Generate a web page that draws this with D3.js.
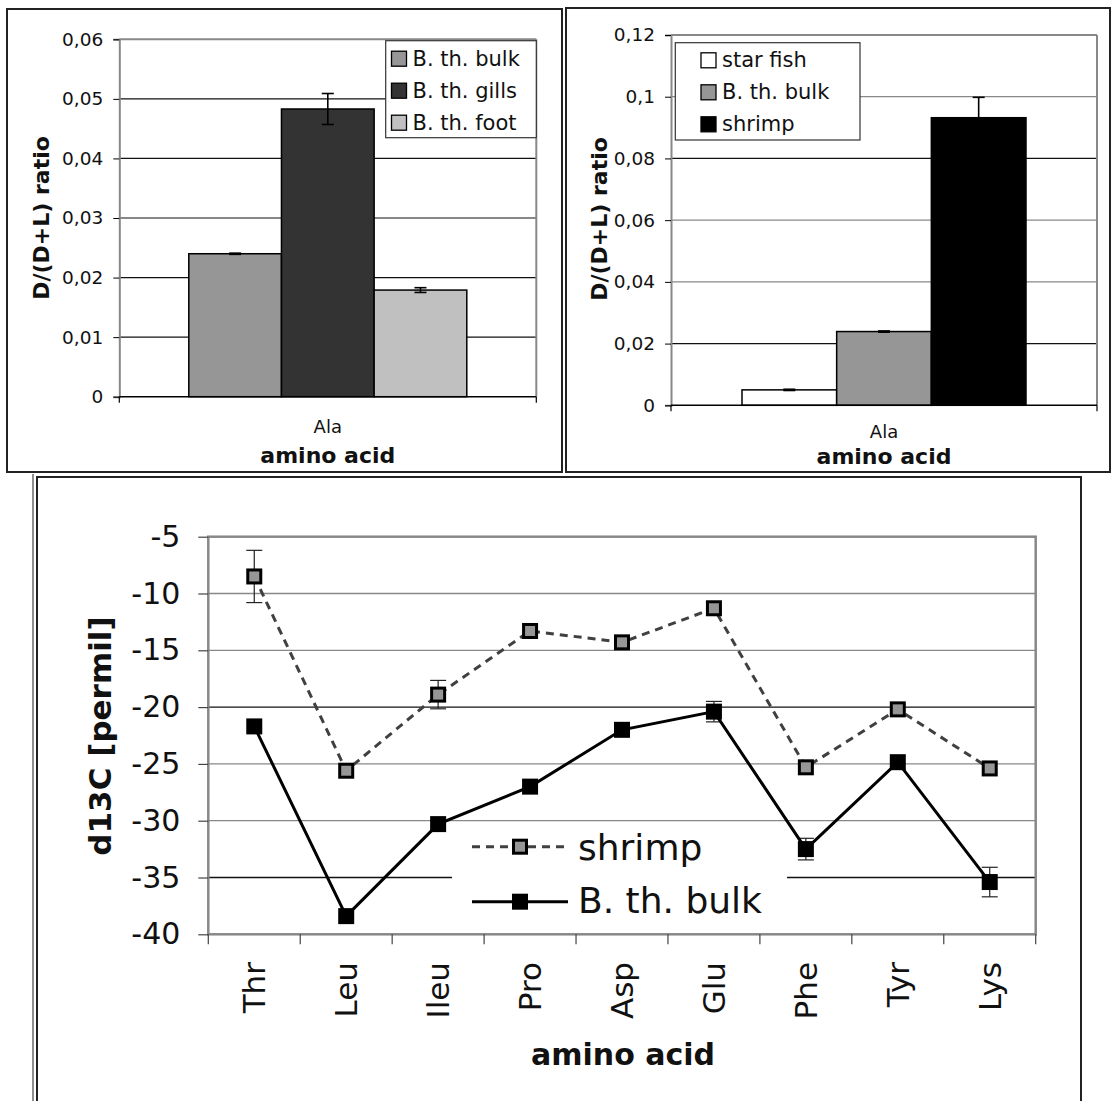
<!DOCTYPE html>
<html>
<head>
<meta charset="utf-8">
<script src="https://cdn.jsdelivr.net/npm/d3@7"></script>
<style>
  body { margin: 0; background: #ffffff; }
  svg { display: block; font-family: "DejaVu Sans", Verdana, sans-serif; }
</style>
</head>
<body>
<svg id="chart" width="1112" height="1101"></svg>
<script>
// ---- data: top-left panel (D/(D+L), Bathymodiolus tissues)
var tlCategories = ["Ala"];
var tlSeries = ["B. th. bulk", "B. th. gills", "B. th. foot"];
var tlValues = [0.024, 0.0483, 0.0179];
var tlErrors = [0.0001, 0.0026, 0.0004];
var tlTicks = [0, 0.01, 0.02, 0.03, 0.04, 0.05, 0.06];

// ---- data: top-right panel (D/(D+L), organisms)
var trCategories = ["Ala"];
var trSeries = ["star fish", "B. th. bulk", "shrimp"];
var trValues = [0.005, 0.0239, 0.0932];
var trErrors = [0.0002, 0.0002, 0.0066];
var trTicks = [0, 0.02, 0.04, 0.06, 0.08, 0.1, 0.12];

// ---- data: bottom panel (d13C per amino acid)
var aminoAcids = ["Thr", "Leu", "Ileu", "Pro", "Asp", "Glu", "Phe", "Tyr", "Lys"];
var shrimpD13C = [-8.5, -25.6, -18.9, -13.3, -14.3, -11.3, -25.3, -20.2, -25.4];
var shrimpErr  = [2.3, 0, 1.25, 0, 0.3, 0, 0, 0, 0];
var bulkD13C   = [-21.7, -38.4, -30.3, -27.0, -22.0, -20.4, -32.5, -24.85, -35.4];
var bulkErr    = [0, 0, 0, 0, 0, 0.9, 0.95, 0, 1.3];
var d13cTicks  = [-40, -35, -30, -25, -20, -15, -10, -5];

var svg = d3.select("#chart");

// comma decimal labels, as in the original
function commaFmt(d) { return String(+d.toFixed(3)).replace(".", ","); }

// panel frames
function frame(x0, y0, x1, y1) {
  svg.append("rect")
    .attr("x", x0).attr("y", y0)
    .attr("width", x1 - x0).attr("height", y1 - y0)
    .attr("fill", "none").attr("stroke", "#222").attr("stroke-width", 2);
}
frame(7, 9, 562, 472);
frame(566, 8, 1110, 472);
frame(37, 477, 1081, 1120);
svg.append("line").attr("x1", 33).attr("x2", 33).attr("y1", 474).attr("y2", 1101)
  .attr("stroke", "#444").attr("stroke-width", 1.2);

// ---------- bar panel ----------
function barPanel(o) {
  var g = svg.append("g");

  var y = d3.scaleLinear().domain([0, d3.max(o.ticks)]).range([o.bottom, o.top]);
  var x0 = d3.scaleBand().domain(o.categories).range([o.left, o.right]).paddingOuter(0.25).paddingInner(0);
  var x1 = d3.scaleBand().domain(o.series).range([0, x0.bandwidth()]);

  // gridlines
  g.selectAll(".grid").data(o.ticks.filter(function(t) { return t > 0; }))
    .enter().append("line")
      .attr("x1", o.left).attr("x2", o.right)
      .attr("y1", function(d) { return y(d); }).attr("y2", function(d) { return y(d); })
      .attr("stroke", function(d, i) { return o.gridDark.indexOf(d) >= 0 ? "#111" : "#888"; })
      .attr("stroke-width", function(d) { return d === d3.max(o.ticks) ? 2 : 1.2; });

  // plot border right
  g.append("line").attr("x1", o.right).attr("x2", o.right).attr("y1", o.top).attr("y2", o.bottom)
    .attr("stroke", "#888").attr("stroke-width", 2);

  // bars
  var rows = o.series.map(function(s, i) { return { s: s, v: o.values[i], e: o.errors[i], c: o.colors[i] }; });
  var cat = o.categories[0];
  g.selectAll(".bar").data(rows).enter().append("rect")
    .attr("x", function(d) { return x0(cat) + x1(d.s); })
    .attr("y", function(d) { return y(d.v); })
    .attr("width", x1.bandwidth())
    .attr("height", function(d) { return y(0) - y(d.v); })
    .attr("fill", function(d) { return d.c; })
    .attr("stroke", "#000").attr("stroke-width", 1.5);

  // error bars
  var eb = g.selectAll(".err").data(rows).enter().append("g")
    .attr("transform", function(d) { return "translate(" + (x0(cat) + x1(d.s) + x1.bandwidth() / 2) + ",0)"; });
  eb.append("line").attr("y1", function(d) { return y(d.v - d.e); }).attr("y2", function(d) { return y(d.v + d.e); })
    .attr("stroke", "#000").attr("stroke-width", 1.6);
  eb.append("line").attr("x1", -6).attr("x2", 6)
    .attr("y1", function(d) { return y(d.v + d.e); }).attr("y2", function(d) { return y(d.v + d.e); })
    .attr("stroke", "#000").attr("stroke-width", 1.6);
  eb.append("line").attr("x1", -6).attr("x2", 6)
    .attr("y1", function(d) { return y(d.v - d.e); }).attr("y2", function(d) { return y(d.v - d.e); })
    .attr("stroke", "#000").attr("stroke-width", 1.6);

  // y axis
  var ya = g.append("g").attr("transform", "translate(" + o.left + ",0)")
    .call(d3.axisLeft(y).tickValues(o.ticks).tickSize(6).tickPadding(10).tickFormat(commaFmt));
  ya.select(".domain").attr("stroke", "#888").attr("stroke-width", 2);
  ya.selectAll(".tick line").attr("stroke", "#000");
  ya.selectAll("text").attr("font-size", 18.5).attr("fill", "#111")
    .attr("font-family", "DejaVu Sans, Verdana, sans-serif");

  // x axis line at zero with end ticks
  g.append("line").attr("x1", o.left).attr("x2", o.right).attr("y1", y(0)).attr("y2", y(0))
    .attr("stroke", "#000").attr("stroke-width", 1.5);
  [o.left, o.right].forEach(function(xx) {
    g.append("line").attr("x1", xx).attr("x2", xx).attr("y1", y(0)).attr("y2", y(0) + 6)
      .attr("stroke", "#000").attr("stroke-width", 1.2);
  });

  // category label + axis title
  g.append("text").attr("x", x0(cat) + x0.bandwidth() / 2).attr("y", o.catY)
    .attr("text-anchor", "middle").attr("font-size", 18).attr("fill", "#111").text(cat);
  g.append("text").attr("x", x0(cat) + x0.bandwidth() / 2).attr("y", o.titleY)
    .attr("text-anchor", "middle").attr("font-size", 22).attr("font-weight", "bold").attr("fill", "#111")
    .text("amino acid");
  g.append("text")
    .attr("transform", "translate(" + o.yTitleX + "," + o.yTitleY + ") rotate(-90)")
    .attr("text-anchor", "middle").attr("dominant-baseline", "central")
    .attr("font-size", 22).attr("font-weight", "bold").attr("fill", "#111")
    .text("D/(D+L) ratio");

  // legend
  var lg = g.append("g");
  lg.append("rect").attr("x", o.legend.x0).attr("y", o.legend.y0)
    .attr("width", o.legend.x1 - o.legend.x0).attr("height", o.legend.y1 - o.legend.y0)
    .attr("fill", "#fff").attr("stroke", "#333").attr("stroke-width", 1.2);
  rows.forEach(function(d, i) {
    var cy = o.legend.firstY + i * 32;
    lg.append("rect").attr("x", o.legend.swX).attr("y", cy - 7.5).attr("width", 15).attr("height", 15)
      .attr("fill", d.c).attr("stroke", "#000").attr("stroke-width", 1.3);
    lg.append("text").attr("x", o.legend.swX + 21).attr("y", cy).attr("dominant-baseline", "central")
      .attr("font-size", 21).attr("fill", "#111").text(d.s);
  });
}

barPanel({
  categories: tlCategories, series: tlSeries, values: tlValues, errors: tlErrors, ticks: tlTicks,
  colors: ["#969696", "#333333", "#c0c0c0"],
  gridDark: [0.01, 0.02, 0.03, 0.04, 0.05],
  left: 119.3, right: 536.3, top: 39.3, bottom: 396.7,
  catY: 433, titleY: 463, yTitleX: 41, yTitleY: 218,
  legend: { x0: 385.7, x1: 536.3, y0: 40.7, y1: 137.7, swX: 391.5, firstY: 58.7 }
});

barPanel({
  categories: trCategories, series: trSeries, values: trValues, errors: trErrors, ticks: trTicks,
  colors: ["#ffffff", "#969696", "#000000"],
  gridDark: [0.02, 0.08],
  left: 671, right: 1097, top: 35, bottom: 405.3,
  catY: 438, titleY: 464, yTitleX: 599, yTitleY: 219,
  legend: { x0: 675.3, x1: 860, y0: 42.7, y1: 140, swX: 701, firstY: 60.3 }
});

// ---------- bottom line panel ----------
(function() {
  var left = 208.3, right = 1035.7, top = 536.7, bottom = 934.3;
  var g = svg.append("g");
  var x = d3.scaleBand().domain(aminoAcids).range([left, right]).padding(0);
  var y = d3.scaleLinear().domain([-40, -5]).range([bottom, top]);
  var cx = function(c) { return x(c) + x.bandwidth() / 2; };
  var darkGrid = [-20, -35];

  g.selectAll(".grid").data(d3ckeep(d3cTicksInner()))
    .enter().append("line")
      .attr("x1", left).attr("x2", right)
      .attr("y1", function(d) { return y(d); }).attr("y2", function(d) { return y(d); })
      .attr("stroke", function(d) { return darkGrid.indexOf(d) >= 0 ? "#111" : "#888"; })
      .attr("stroke-width", 1.3);

  function d3cTicksInner() { return d13cTicks.filter(function(t) { return t > -40 && t < -5; }); }
  function d3ckeep(a) { return a; }

  // plot border
  g.append("rect").attr("x", left).attr("y", top).attr("width", right - left).attr("height", bottom - top)
    .attr("fill", "none").attr("stroke", "#888").attr("stroke-width", 2.5);

  // legend background (covers gridlines)
  g.append("rect").attr("x", 452).attr("y", 826).attr("width", 335).attr("height", 104).attr("fill", "#fff");

  // y axis ticks + labels
  var ya = g.append("g").attr("transform", "translate(" + left + ",0)")
    .call(d3.axisLeft(y).tickValues(d13cTicks).tickSize(10).tickPadding(18).tickFormat(function(d) { return String(d); }));
  ya.select(".domain").remove();
  ya.selectAll(".tick line").attr("stroke", "#444").attr("stroke-width", 1.2);
  ya.selectAll("text").attr("font-size", 30).attr("fill", "#111")
    .attr("font-family", "DejaVu Sans, Verdana, sans-serif");

  // x axis tick marks at category boundaries
  var bounds = aminoAcids.map(function(c) { return x(c); }).concat([right]);
  g.selectAll(".xt").data(bounds).enter().append("line")
    .attr("x1", function(d) { return d; }).attr("x2", function(d) { return d; })
    .attr("y1", bottom).attr("y2", bottom + 10)
    .attr("stroke", "#444").attr("stroke-width", 1.2);

  // rotated category labels
  g.selectAll(".xl").data(aminoAcids).enter().append("text")
    .attr("transform", function(d) { return "translate(" + (cx(d) + 11) + "," + 962 + ") rotate(-90)"; })
    .attr("text-anchor", "end").attr("font-size", 31).attr("fill", "#111")
    .text(function(d) { return d; });

  // titles
  g.append("text").attr("x", 623).attr("y", 1065).attr("text-anchor", "middle")
    .attr("font-size", 30).attr("font-weight", "bold").attr("fill", "#111").text("amino acid");
  g.append("text").attr("transform", "translate(100,736) rotate(-90)")
    .attr("text-anchor", "middle").attr("dominant-baseline", "central")
    .attr("font-size", 31).attr("font-weight", "bold").attr("fill", "#111").text("d13C [permil]");

  var shrimp = aminoAcids.map(function(c, i) { return { c: c, v: shrimpD13C[i], e: shrimpErr[i] }; });
  var bulk = aminoAcids.map(function(c, i) { return { c: c, v: bulkD13C[i], e: bulkErr[i] }; });

  var line = d3.line().x(function(d) { return cx(d.c); }).y(function(d) { return y(d.v); });

  // error bars (behind markers)
  function errBars(data) {
    var e = g.selectAll(null).data(data.filter(function(d) { return d.e > 0; })).enter().append("g")
      .attr("transform", function(d) { return "translate(" + cx(d.c) + ",0)"; });
    e.append("line").attr("y1", function(d) { return y(d.v - d.e); }).attr("y2", function(d) { return y(d.v + d.e); })
      .attr("stroke", "#222").attr("stroke-width", 1.2);
    [1, -1].forEach(function(s) {
      e.append("line").attr("x1", -8).attr("x2", 8)
        .attr("y1", function(d) { return y(d.v + s * d.e); }).attr("y2", function(d) { return y(d.v + s * d.e); })
        .attr("stroke", "#222").attr("stroke-width", 1.2);
    });
  }
  errBars(shrimp);
  errBars(bulk);

  g.append("path").datum(shrimp).attr("d", line).attr("fill", "none")
    .attr("stroke", "#404040").attr("stroke-width", 3).attr("stroke-dasharray", "8,6");
  g.append("path").datum(bulk).attr("d", line).attr("fill", "none")
    .attr("stroke", "#000").attr("stroke-width", 3);

  g.selectAll(".ms").data(shrimp).enter().append("rect")
    .attr("x", function(d) { return cx(d.c) - 6.5; }).attr("y", function(d) { return y(d.v) - 6.5; })
    .attr("width", 13).attr("height", 13)
    .attr("fill", "#969696").attr("stroke", "#000").attr("stroke-width", 3);
  g.selectAll(".mb").data(bulk).enter().append("rect")
    .attr("x", function(d) { return cx(d.c) - 8; }).attr("y", function(d) { return y(d.v) - 8; })
    .attr("width", 16).attr("height", 16).attr("fill", "#000");

  // legend entries
  var lx0 = 472, lx1 = 568, lmid = 520;
  g.append("line").attr("x1", lx0).attr("x2", lx1).attr("y1", 846.7).attr("y2", 846.7)
    .attr("stroke", "#404040").attr("stroke-width", 3).attr("stroke-dasharray", "8,6");
  g.append("rect").attr("x", lmid - 6.5).attr("y", 846.7 - 6.5).attr("width", 13).attr("height", 13)
    .attr("fill", "#969696").attr("stroke", "#000").attr("stroke-width", 3);
  g.append("text").attr("x", 578).attr("y", 860).attr("font-size", 36).attr("fill", "#111").text("shrimp");

  g.append("line").attr("x1", lx0).attr("x2", lx1).attr("y1", 901.7).attr("y2", 901.7)
    .attr("stroke", "#000").attr("stroke-width", 3);
  g.append("rect").attr("x", lmid - 8).attr("y", 901.7 - 8).attr("width", 16).attr("height", 16).attr("fill", "#000");
  g.append("text").attr("x", 578).attr("y", 913.3).attr("font-size", 36).attr("fill", "#111").text("B. th. bulk");
})();
</script>
</body>
</html>
